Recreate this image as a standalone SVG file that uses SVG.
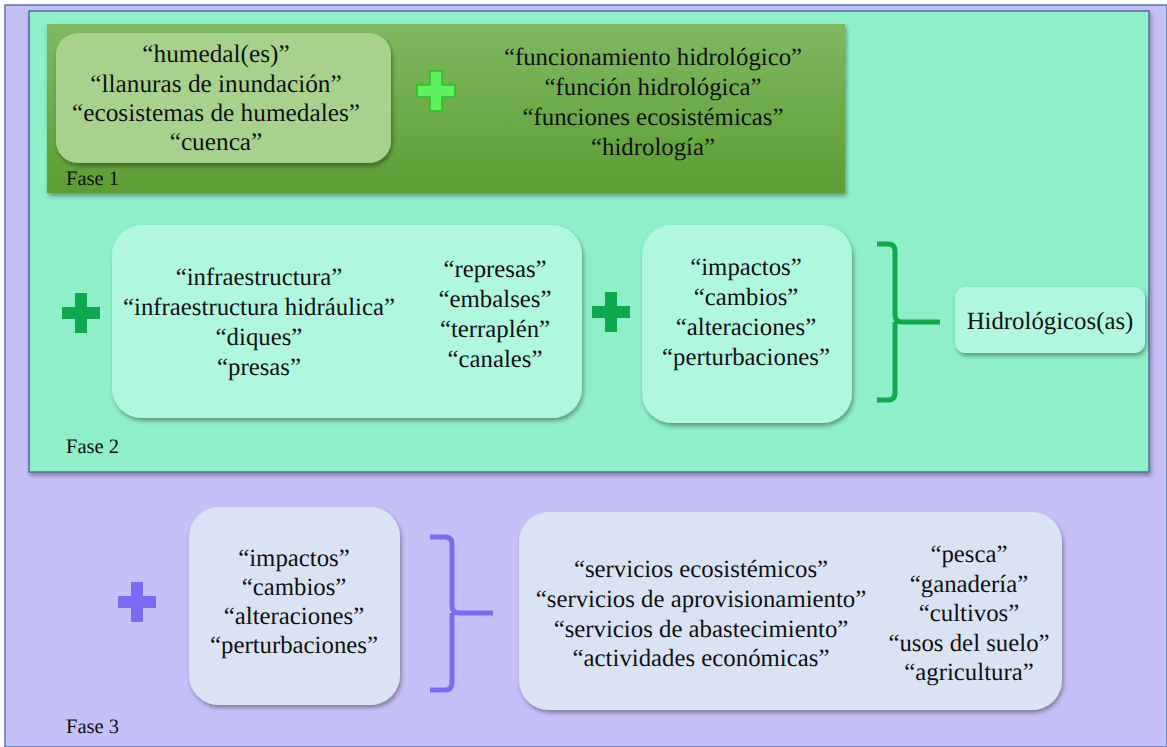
<svg xmlns="http://www.w3.org/2000/svg" width="1167" height="747" viewBox="0 0 1167 747">
<defs>
<filter id="sh" x="-10%" y="-10%" width="120%" height="130%"><feDropShadow dx="1.5" dy="3" stdDeviation="2" flood-color="#000" flood-opacity="0.35"/></filter>
<linearGradient id="g1" x1="0" y1="0" x2="0" y2="1"><stop offset="0" stop-color="#80B862"/><stop offset="1" stop-color="#5C9E33"/></linearGradient>
<path id="plus" d="M-6,-20 H6 V-6 H19 V6 H6 V20 H-6 V6 H-19 V-6 H-6 Z"/>
</defs>
<style>
text{font-family:"Liberation Serif","Times New Roman",serif;fill:#111;text-rendering:geometricPrecision;}
.t{font-size:24.8px;text-anchor:middle;}
.t1{font-size:25.3px;text-anchor:middle;}
.f{font-size:20.5px;}
.mint{fill:#B0F7DF;}
.blue{fill:#DAE3F3;}
.brg{fill:none;stroke:#12A84F;stroke-width:5;}
.brp{fill:none;stroke:#7C6BF2;stroke-width:5;}
</style>
<rect x="0" y="0" width="1167" height="747" fill="#ffffff"/>
<rect id="bg" x="5" y="5" width="1162" height="742" fill="#C6C0F8" stroke="#5A78A8" stroke-width="1.5"/>
<g id="fase2">
<rect x="29" y="11" width="1120" height="461" fill="#8EEFC8" stroke="#4F6F9A" stroke-width="1.5" filter="url(#sh)"/>
<text class="f" x="66" y="453">Fase 2</text>
</g>
<g id="fase1">
<rect x="47" y="24" width="798" height="169" fill="url(#g1)" filter="url(#sh)"/>
<text class="f" x="66" y="185">Fase 1</text>
</g>
<g id="n1">
<rect x="56" y="33" width="335" height="130" rx="22" fill="#A9D18E" filter="url(#sh)"/>
<text class="t1"><tspan x="216" y="62">“humedal(es)”</tspan><tspan x="216" y="91.5">“llanuras de inundación”</tspan><tspan x="216" y="120.5">“ecosistemas de humedales”</tspan><tspan x="216" y="149.5">“cuenca”</tspan></text>
</g>
<g id="plus1"><use href="#plus" transform="translate(436,91)" fill="#5EF35E" stroke="#26C026" stroke-width="1.5"/></g>
<g id="n2">
<text class="t"><tspan x="653" y="65">“funcionamiento hidrológico”</tspan><tspan x="653" y="95">“función hidrológica”</tspan><tspan x="653" y="125">“funciones ecosistémicas”</tspan><tspan x="653" y="155">“hidrología”</tspan></text>
</g>
<g id="plus2"><use href="#plus" transform="translate(81,313)" fill="#0EA84E"/></g>
<g id="n3">
<rect x="112" y="225" width="470" height="193" rx="30" class="mint" filter="url(#sh)"/>
<text class="t"><tspan x="259" y="285">“infraestructura”</tspan><tspan x="259" y="315">“infraestructura hidráulica”</tspan><tspan x="259" y="345">“diques”</tspan><tspan x="259" y="375">“presas”</tspan></text>
<text class="t"><tspan x="495" y="277">“represas”</tspan><tspan x="495" y="307">“embalses”</tspan><tspan x="495" y="337">“terraplén”</tspan><tspan x="495" y="367">“canales”</tspan></text>
</g>
<g id="plus3"><use href="#plus" transform="translate(611,312)" fill="#0EA84E"/></g>
<g id="n4">
<rect x="642" y="225" width="210" height="198" rx="30" class="mint" filter="url(#sh)"/>
<text class="t"><tspan x="746" y="275">“impactos”</tspan><tspan x="746" y="305">“cambios”</tspan><tspan x="746" y="335">“alteraciones”</tspan><tspan x="746" y="365">“perturbaciones”</tspan></text>
</g>
<g id="n5">
<rect x="955" y="287" width="190" height="66" rx="11" class="mint" filter="url(#sh)"/>
<text class="t" x="1050" y="329">Hidrológicos(as)</text>
</g>
<g id="plus4"><use href="#plus" transform="translate(137,602)" fill="#7C6BF2"/></g>
<g id="n6">
<rect x="189" y="507" width="211" height="198" rx="30" class="blue" filter="url(#sh)"/>
<text class="t"><tspan x="294" y="566">“impactos”</tspan><tspan x="294" y="595">“cambios”</tspan><tspan x="294" y="624">“alteraciones”</tspan><tspan x="294" y="653">“perturbaciones”</tspan></text>
<text class="f" x="66" y="733">Fase 3</text>
</g>
<g id="n7">
<rect x="519" y="512" width="543" height="198" rx="30" class="blue" filter="url(#sh)"/>
<text class="t"><tspan x="701" y="577">“servicios ecosistémicos”</tspan><tspan x="701" y="607">“servicios de aprovisionamiento”</tspan><tspan x="701" y="637">“servicios de abastecimiento”</tspan><tspan x="701" y="666">“actividades económicas”</tspan></text>
<text class="t"><tspan x="969" y="562">“pesca”</tspan><tspan x="969" y="591.5">“ganadería”</tspan><tspan x="969" y="621">“cultivos”</tspan><tspan x="969" y="650.5">“usos del suelo”</tspan><tspan x="969" y="680">“agricultura”</tspan></text>
</g>
<g id="connectors">
<path class="brg" d="M877,244 H888 Q895,244 895,251 V315 Q895,322 902,322 H940 M895,322 V393 Q895,400 888,400 H877"/>
<path class="brp" d="M430,537 H445 Q452,537 452,544 V606 Q452,613 459,613 H493 M452,613 V683 Q452,690 445,690 H430"/>
</g>
</svg>
